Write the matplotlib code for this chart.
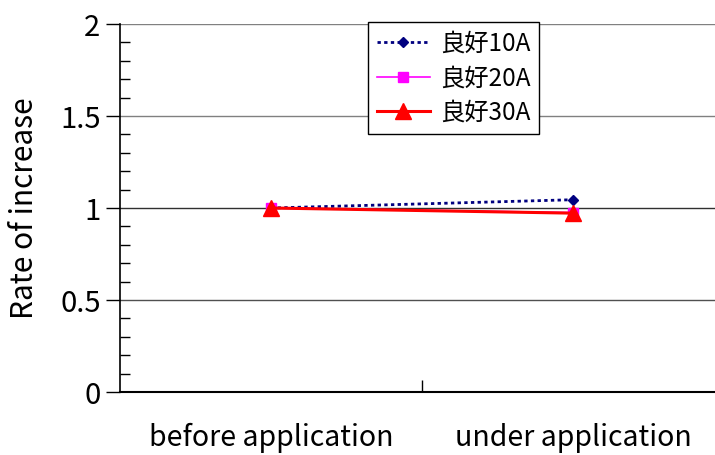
import matplotlib
matplotlib.use("Agg")
import matplotlib.pyplot as plt
from matplotlib.ticker import MultipleLocator

plt.rcParams['font.family'] = ['Noto Sans CJK JP', 'DejaVu Sans']

categories = ["before application", "under application"]
series_names = ["良好10A", "良好20A", "良好30A"]
values_10a = [1.0, 1.045]
values_20a = [1.0, 0.975]
values_30a = [1.0, 0.972]

W, H = 715, 455
fig = plt.figure(figsize=(W / 100, H / 100), dpi=100)
left, right, top, bottom = 120, 724, 24, 392
ax = fig.add_axes([left / W, 1 - bottom / H, (right - left) / W, (bottom - top) / H])

x = list(range(len(categories)))
ax.plot(x, values_10a, color="#000080", linestyle=(0, (1.2, 1.2)), linewidth=2,
        marker="D", markersize=5, label=series_names[0], zorder=3)
ax.plot(x, values_20a, color="#FF00FF", linestyle="-", linewidth=1.2,
        marker="s", markersize=7, label=series_names[1], zorder=4)
ax.plot(x, values_30a, color="#FF0000", linestyle="-", linewidth=2.2,
        marker="^", markersize=11, label=series_names[2], zorder=5)

ax.set_xlim(-0.5, 1.5)
ax.set_ylim(0, 2)

ax.yaxis.set_major_locator(MultipleLocator(0.5))
ax.yaxis.set_minor_locator(MultipleLocator(0.1))
ax.tick_params(axis="y", which="major", direction="out", length=10, width=1,
               labelsize=21, pad=4)
ax.tick_params(axis="y", which="minor", direction="in", length=7, width=1)
ax.set_yticks([0, 0.5, 1, 1.5, 2])
ax.set_yticklabels(["0", "0.5", "1", "1.5", "2"])

# category separators on the x axis
ax.set_xticks([0.5], minor=True)
ax.set_xticks(x)
ax.set_xticklabels(categories, fontsize=20.5)
ax.tick_params(axis="x", which="major", length=0, pad=22.5)
ax.tick_params(axis="x", which="minor", direction="in", length=9, width=1)

for yv, c in [(0.5, "#505050"), (1.0, "#303030"), (1.5, "#808080"), (2.0, "#808080")]:
    ax.axhline(yv, color=c, linewidth=1, zorder=1)

for s in ["top", "right"]:
    ax.spines[s].set_visible(False)
ax.spines["left"].set_linewidth(1.2)
ax.spines["bottom"].set_linewidth(1.5)

ax.set_ylabel("Rate of increase", fontsize=21.5)
ax.yaxis.set_label_coords((40 - left) / (right - left), 0.5)

leg = ax.legend(loc="upper left", bbox_to_anchor=((368 - left) / (right - left), 1.005),
                borderaxespad=0, fontsize=17.5, frameon=True, fancybox=False,
                edgecolor="black", framealpha=1, handlelength=2.2, borderpad=0.35,
                labelspacing=0.35, handletextpad=0.4)
leg.get_frame().set_linewidth(1)

fig.savefig("out.png", dpi=100)
